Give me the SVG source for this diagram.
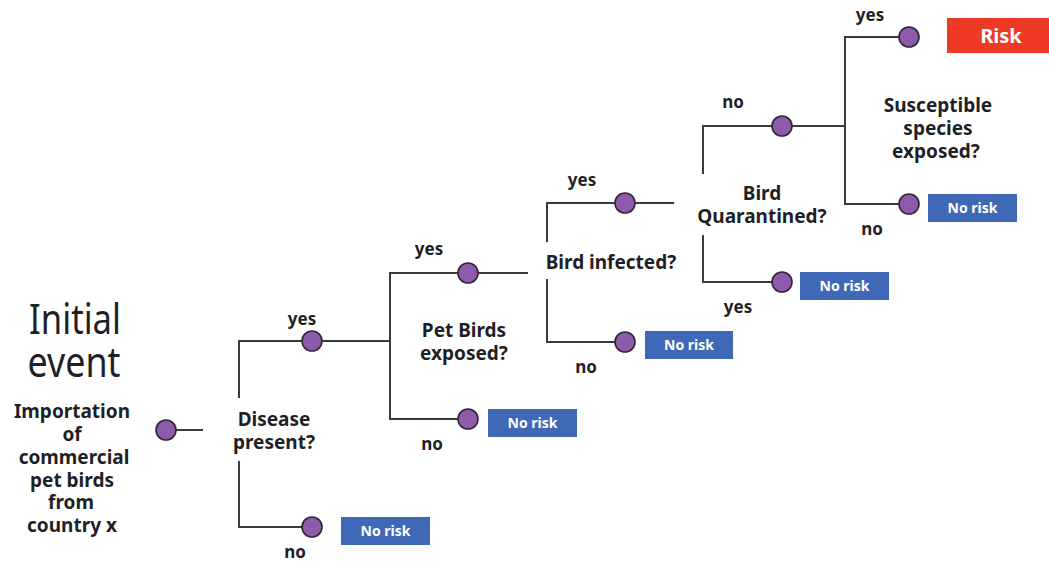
<svg xmlns="http://www.w3.org/2000/svg" width="1049" height="563" viewBox="0 0 1049 563">
  <defs>
    <style>
      text { font-family: "Noto Sans", "DejaVu Sans", sans-serif; fill: #1f1f26; text-anchor: middle; }
      .big { font-size: 42px; font-weight: normal; }
      .q { font-size: 19px; font-weight: bold; }
      .lbl { font-size: 17px; font-weight: bold; }
      .box-txt { font-size: 14px; font-weight: bold; fill: #ffffff; }
      .risk-txt { font-size: 20px; font-weight: bold; fill: #ffffff; }
      .wire { fill: none; stroke: #3b3b3b; stroke-width: 2; }
      .dot { fill: #8e5aab; stroke: #2e2535; stroke-width: 1.6; }
      .norisk { fill: #3f69b7; }
      .risk { fill: #ee3a24; }
    </style>
  </defs>
  <rect width="1049" height="563" fill="#ffffff"/>

  <!-- tree branches -->
  <g id="connectors">
    <path class="wire" d="M176 430 H203"/>
    <!-- disease present? -->
    <path class="wire" d="M239 398 V341 H302 M322 341 H390"/>
    <path class="wire" d="M239 461 V527 H302"/>
    <!-- pet birds exposed? -->
    <path class="wire" d="M458 273 H390 V419 H458"/>
    <path class="wire" d="M478 273 H528"/>
    <!-- bird infected? -->
    <path class="wire" d="M547 242 V203 H615 M635 203 H674"/>
    <path class="wire" d="M547 279 V342 H615"/>
    <!-- bird quarantined? -->
    <path class="wire" d="M703 174 V126 H772 M792 126 H845"/>
    <path class="wire" d="M703 235 V282 H772"/>
    <!-- susceptible species exposed? -->
    <path class="wire" d="M899 37 H845 V204 H899"/>
  </g>

  <g id="initial-event">
    <text class="big" x="75" y="334" textLength="92" lengthAdjust="spacingAndGlyphs">Initial</text>
    <text class="big" x="74" y="377" textLength="93" lengthAdjust="spacingAndGlyphs">event</text>
    <text class="q" x="72" y="418">Importation</text>
    <text class="q" x="72" y="441">of</text>
    <text class="q" x="74" y="464">commercial</text>
    <text class="q" x="72" y="487">pet birds</text>
    <text class="q" x="71" y="509">from</text>
    <text class="q" x="72" y="532">country x</text>
    <circle class="dot" cx="166" cy="430" r="10"/>
  </g>

  <g id="disease-present">
    <text class="q" x="274" y="426">Disease</text>
    <text class="q" x="274" y="449">present?</text>
    <text class="lbl" x="302" y="325">yes</text>
    <circle class="dot" cx="312" cy="341" r="10"/>
    <text class="lbl" x="295" y="558">no</text>
    <circle class="dot" cx="312" cy="527" r="10"/>
  </g>
  <g id="outcome-1">
    <rect class="norisk" x="341" y="517" width="89" height="28"/>
    <text class="box-txt" x="385.5" y="536">No risk</text>
  </g>

  <g id="pet-birds-exposed">
    <text class="q" x="464" y="337">Pet Birds</text>
    <text class="q" x="464" y="360">exposed?</text>
    <text class="lbl" x="429" y="255">yes</text>
    <circle class="dot" cx="468" cy="273" r="10"/>
    <text class="lbl" x="432" y="450">no</text>
    <circle class="dot" cx="468" cy="419" r="10"/>
  </g>
  <g id="outcome-2">
    <rect class="norisk" x="488" y="409" width="89" height="28"/>
    <text class="box-txt" x="532.5" y="428">No risk</text>
  </g>

  <g id="bird-infected">
    <text class="q" x="611" y="269">Bird infected?</text>
    <text class="lbl" x="582" y="186">yes</text>
    <circle class="dot" cx="625" cy="203" r="10"/>
    <text class="lbl" x="586" y="373">no</text>
    <circle class="dot" cx="625" cy="342" r="10"/>
  </g>
  <g id="outcome-3">
    <rect class="norisk" x="645" y="331" width="88" height="28"/>
    <text class="box-txt" x="689" y="350">No risk</text>
  </g>

  <g id="bird-quarantined">
    <text class="q" x="762" y="200">Bird</text>
    <text class="q" x="762" y="223">Quarantined?</text>
    <text class="lbl" x="733" y="108">no</text>
    <circle class="dot" cx="782" cy="126" r="10"/>
    <text class="lbl" x="738" y="313">yes</text>
    <circle class="dot" cx="782" cy="282" r="10"/>
  </g>
  <g id="outcome-4">
    <rect class="norisk" x="800" y="272" width="89" height="28"/>
    <text class="box-txt" x="844.5" y="291">No risk</text>
  </g>

  <g id="susceptible-species-exposed">
    <text class="q" x="938" y="112">Susceptible</text>
    <text class="q" x="938" y="135">species</text>
    <text class="q" x="936" y="158">exposed?</text>
    <text class="lbl" x="870" y="21">yes</text>
    <circle class="dot" cx="909" cy="37" r="10"/>
    <text class="lbl" x="872" y="235">no</text>
    <circle class="dot" cx="909" cy="204" r="10"/>
  </g>
  <g id="outcome-risk">
    <rect class="risk" x="947" y="18" width="102" height="35"/>
    <text class="risk-txt" x="1001" y="43">Risk</text>
  </g>
  <g id="outcome-5">
    <rect class="norisk" x="928" y="194" width="89" height="28"/>
    <text class="box-txt" x="972.5" y="213">No risk</text>
  </g>
</svg>
